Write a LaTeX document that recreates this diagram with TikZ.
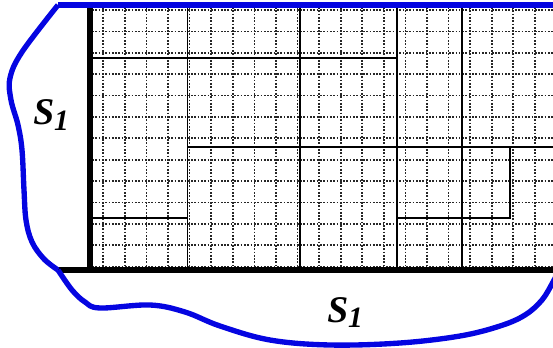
\documentclass[tikz,border=0pt]{standalone}
\usepackage{fontspec}
\setmainfont{Liberation Serif}
\definecolor{curveblue}{RGB}{5,5,225}
\newcommand{\subidx}[1]{\raisebox{-4pt}{\fontsize{21}{21}\selectfont #1}}

\begin{document}
\begin{tikzpicture}[
      x={(0.025cm,0)}, y={(0,-0.025cm)},
      finegrid/.style={line width=1.2pt, dash pattern=on 1.2pt off 1.15pt, black!85},
      cellline/.style={line width=1.4pt, black},
      border/.style={line width=3.6pt, black},
      bound/.style={line width=3.8pt, curveblue, line join=round},
      tag/.style={inner sep=0pt, anchor=base west, font=\fontsize{26.8}{30}\selectfont\bfseries\itshape}
    ]
    \clip (0,0) rectangle (553,348);

    % fine grid
    \foreach \k in {0,...,20}
      \draw[finegrid] ({103.3+21.58*\k},7) -- ({103.3+21.58*\k},268);
    \foreach \k in {0,...,12}
      \draw[finegrid] (92,{10+21.39*\k}) -- (553,{10+21.39*\k});

    % coarse cells
    \foreach \xx in {187.5,300,396.7,461.7}
      \draw[cellline] (\xx,4) -- (\xx,270);
    \draw[cellline] (90,58.3) -- (396.7,58.3);
    \draw[cellline] (187.5,146.7) -- (553,146.7);
    \draw[cellline] (90,218) -- (187.5,218);
    \draw[cellline] (396.7,218) -- (510,218) -- (510,146.7);

    % walls
    \draw[border] (90,5) -- (90,270);
    \draw[border] (58,270) -- (553,270);

    % boundary S1
    \draw[bound] (553,5) -- (58,5);
    \draw[bound] plot[smooth, tension=0.6] coordinates {(58,5) (22,52) (10,78) (11,100) (18,125) (22,150) (24,190) (26,220) (32,242) (44,259) (58,270)};
    \draw[bound] plot[smooth, tension=0.6] coordinates {(58,270) (72,290) (85,302) (100,308) (150,305) (185,312) (220,326) (270,340) (330,345) (400,343) (460,336) (500,326) (525,315) (542,300) (553,282) (558,272)};

    % labels
    \node[tag] (sLeft) at (33,125) {S\subidx{1}};
    \node[tag] (sBottom) at (327,322) {S\subidx{1}};

  \end{tikzpicture}
\end{document}
